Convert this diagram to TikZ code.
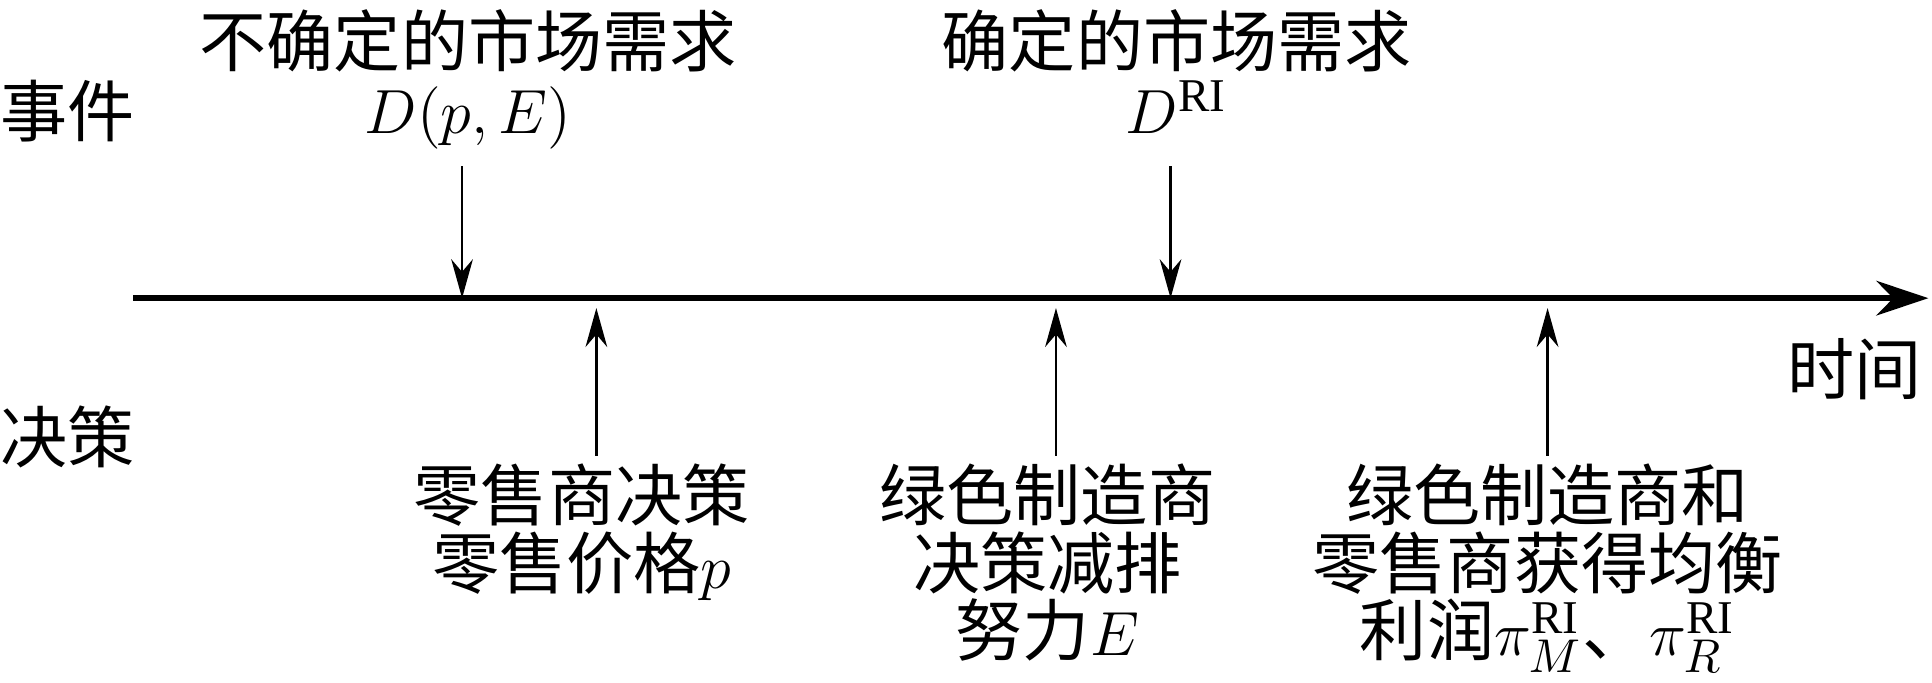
\documentclass[tikz,border=0pt]{standalone}
\usepackage{fontspec}
\setmainfont{Liberation Serif}
\newfontfamily\cjk{Noto Sans CJK SC}
\usepackage{tikz}
\usetikzlibrary{arrows.meta}

\begin{document}
\begin{tikzpicture}
					\tikzstyle{label}=[font=\cjk\fontsize{15.5}{15.6}\selectfont,inner sep=0pt,align=center]
					\tikzstyle{pointer}=[-{Stealth[length=9pt,width=5pt]},line width=0.6pt]
					\useasboundingbox (0,0) rectangle (15.68,5.54);
					\coordinate (s) at (1.08,3.12);
					\coordinate (t) at (15.65,3.12);
					\draw[line width=1.3pt,-{Stealth[length=12pt,width=8pt]}] (s) -- (t);
					\node[label] (ev) at (0.55,4.64) {事件};
					\node[label] (de) at (0.55,1.99) {决策};
					\node[label] (ti) at (15.05,2.54) {时间};
					\node[label,anchor=north] (1) at (3.80,5.47) {不确定的市场需求\\$D(p,E)$};
					\node[label,anchor=north] (2) at (9.55,5.47) {确定的市场需求\\$D^{\mathrm{RI}}$};
					\node[label,anchor=north] (3) at (4.72,1.78) {零售商决策\\零售价格$p$};
					\node[label,anchor=north] (4) at (8.50,1.78) {绿色制造商\\决策减排\\努力$E$};
					\node[label,anchor=north] (5) at (12.56,1.78) {绿色制造商和\\零售商获得均衡\\利润$\pi_M^{\mathrm{RI}}$、$\pi_R^{\mathrm{RI}}$};
					\coordinate (a1) at (3.75,3.12);
					\coordinate (a2) at (9.50,3.12);
					\coordinate (b3) at (4.84,3.04);
					\coordinate (b4) at (8.57,3.04);
					\coordinate (b5) at (12.56,3.04);
					\draw[pointer] (3.75,4.19) -- (a1);
					\draw[pointer] (9.50,4.19) -- (a2);
					\draw[pointer] (4.84,1.84) -- (b3);
					\draw[pointer] (8.57,1.84) -- (b4);
					\draw[pointer] (12.56,1.84) -- (b5);
\end{tikzpicture}
\end{document}
